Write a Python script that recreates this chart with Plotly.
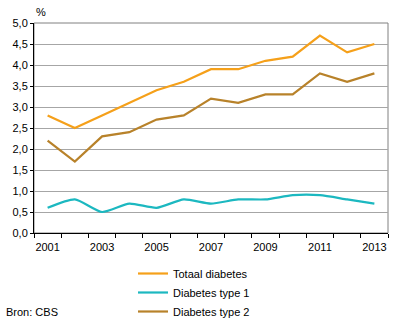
import plotly.graph_objects as go

years = [2001, 2002, 2003, 2004, 2005, 2006, 2007, 2008, 2009, 2010, 2011, 2012, 2013]
totaal = [2.8, 2.5, 2.8, 3.1, 3.4, 3.6, 3.9, 3.9, 4.1, 4.2, 4.7, 4.3, 4.5]
type1 = [0.6, 0.8, 0.5, 0.7, 0.6, 0.8, 0.7, 0.8, 0.8, 0.9, 0.9, 0.8, 0.7]
type2 = [2.2, 1.7, 2.3, 2.4, 2.7, 2.8, 3.2, 3.1, 3.3, 3.3, 3.8, 3.6, 3.8]
y_ticks = [0, 0.5, 1, 1.5, 2, 2.5, 3, 3.5, 4, 4.5, 5]
x_labels = [2001, 2003, 2005, 2007, 2009, 2011, 2013]

font = "Liberation Sans, Arial, sans-serif"

fig = go.Figure()
fig.add_trace(go.Scatter(x=years, y=totaal, mode="lines", name="Totaal diabetes",
                         line=dict(color="#F5A01A", width=2.2)))
fig.add_trace(go.Scatter(x=years, y=type1, mode="lines", name="Diabetes type 1",
                         line=dict(color="#1CB8C0", width=2.2, shape="spline", smoothing=0.6)))
fig.add_trace(go.Scatter(x=years, y=type2, mode="lines", name="Diabetes type 2",
                         line=dict(color="#B8822A", width=2.2)))

fig.update_layout(
    width=396, height=323,
    margin=dict(l=34, r=8, t=23, b=90, autoexpand=False),
    paper_bgcolor="white", plot_bgcolor="white",
    separators=",.",
    font=dict(family=font, size=11, color="black"),
    showlegend=True,
    legend=dict(xref="container", yref="container", x=133 / 396, y=1 - 259 / 323,
                xanchor="left", yanchor="top",
                font=dict(family=font, size=11, color="black"),
                bgcolor="rgba(0,0,0,0)", tracegroupgap=0, itemwidth=30),
    shapes=[dict(type="rect", xref="paper", yref="paper", x0=0, y0=0, x1=1, y1=1,
                 line=dict(color="#808080", width=1), layer="below")],
    annotations=[
        dict(text="%", xref="paper", yref="paper", x=0, y=1, xanchor="left", yanchor="bottom",
             yshift=3, showarrow=False, font=dict(family=font, size=11)),
        dict(text="Bron: CBS", xref="paper", yref="paper", x=0, y=0, xanchor="left", yanchor="top",
             xshift=-30, yshift=-71, showarrow=False, font=dict(family=font, size=11)),
    ],
)
fig.update_xaxes(
    range=[2000.5, 2013.5], tickvals=x_labels, ticks="", showgrid=False,
    showline=True, linecolor="black", linewidth=1, zeroline=False,
    minor=dict(tickvals=[y + 0.5 for y in [2000] + years], ticks="outside",
               ticklen=4, tickcolor="black", showgrid=False),
    ticklabelstandoff=4,
)
fig.update_yaxes(
    range=[0, 5], tickvals=y_ticks, tickformat=".1f", ticks="outside", ticklen=3,
    tickcolor="black", showgrid=True, gridcolor="#A6A6A6", gridwidth=1,
    showline=True, linecolor="black", linewidth=1, zeroline=False,
)
fig.write_html("out.html")
